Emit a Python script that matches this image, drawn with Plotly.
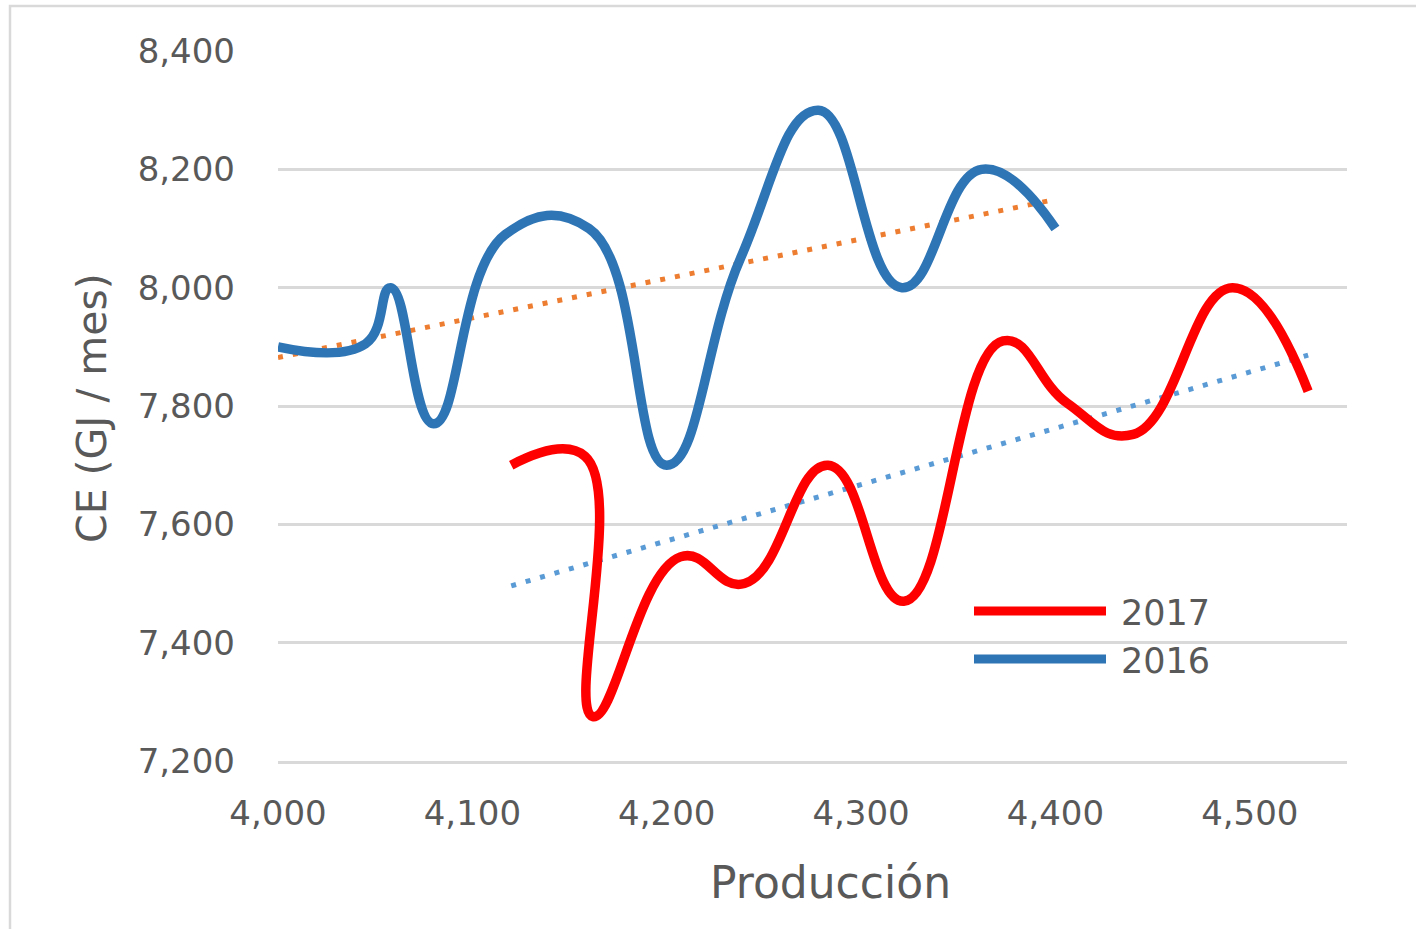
import plotly.graph_objects as go

# Producción (x) vs. consumo de energía CE (y), por año
prod_2016 = [4000, 4045, 4058, 4080, 4117, 4160, 4200, 4238, 4278, 4321, 4362, 4400]
ce_2016 = [7900, 7905, 8000, 7770, 8090, 8100, 7700, 8050, 8300, 8000, 8200, 8100]

prod_2017 = [4120, 4158, 4162, 4207, 4240, 4283, 4322, 4373, 4406, 4440, 4491, 4530]
ce_2017 = [7700, 7715, 7275, 7545, 7500, 7700, 7470, 7910, 7805, 7752, 8000, 7825]

# Líneas de tendencia lineal (extremos)
trend_2016_x = [4000, 4400]
trend_2016_y = [7882, 8149]
trend_2017_x = [4120, 4530]
trend_2017_y = [7496, 7886]

series_names = ["2017", "2016"]
x_ticks = [4000, 4100, 4200, 4300, 4400, 4500]
y_ticks = [7200, 7400, 7600, 7800, 8000, 8200, 8400]

RED = "#FF0000"
BLUE = "#2E75B6"
ORANGE = "#ED7D31"
LIGHT_BLUE = "#5B9BD5"
GRID = "#D9D9D9"
TEXT = "#595959"
FONT = "DejaVu Sans"

fig = go.Figure()

fig.add_trace(go.Scatter(
    x=trend_2016_x, y=trend_2016_y, mode="lines", showlegend=False,
    line=dict(color=ORANGE, width=5, dash="5px,10px"), hoverinfo="skip"))
fig.add_trace(go.Scatter(
    x=trend_2017_x, y=trend_2017_y, mode="lines", showlegend=False,
    line=dict(color=LIGHT_BLUE, width=5, dash="5px,10px"), hoverinfo="skip"))

fig.add_trace(go.Scatter(
    x=prod_2016, y=ce_2016, mode="lines", name=series_names[1], showlegend=False,
    line=dict(color=BLUE, width=9.5, shape="spline", smoothing=1.3)))
fig.add_trace(go.Scatter(
    x=prod_2017, y=ce_2017, mode="lines", name=series_names[0], showlegend=False,
    line=dict(color=RED, width=9.5, shape="spline", smoothing=1.3)))

# Plot area geometry in pixels (for paper-coordinate helpers)
W, H = 1416, 929
L, R, T, B = 278, 69, 51, 168
pw, ph = W - L - R, H - T - B


def px(xp):
    return (xp - L) / pw


def py(yp):
    return (H - B - yp) / ph


shapes = [
    # outer chart border
    dict(type="rect", xref="paper", yref="paper",
         x0=px(10), x1=px(1425), y0=py(940), y1=py(6),
         line=dict(color=GRID, width=2.5), layer="below"),
]
annotations = []

# legend drawn as lines + labels
legend_items = [(series_names[0], RED, 611), (series_names[1], BLUE, 659)]
for name, color, ypix in legend_items:
    shapes.append(dict(type="line", xref="paper", yref="paper",
                       x0=px(974), x1=px(1106), y0=py(ypix), y1=py(ypix),
                       line=dict(color=color, width=9)))
    annotations.append(dict(xref="paper", yref="paper", x=px(1119), y=py(ypix + 2),
                            text=name, showarrow=False, xanchor="left", yanchor="middle",
                            font=dict(family=FONT, size=35, color=TEXT)))

annotations.append(dict(xref="paper", yref="paper", x=px(830), y=py(882),
                        text="Producción", showarrow=False, xanchor="center",
                        yanchor="middle", font=dict(family=FONT, size=44, color=TEXT)))
annotations.append(dict(xref="paper", yref="paper", x=px(92), y=py(408),
                        text="CE (GJ / mes)", showarrow=False, textangle=-90,
                        xanchor="center", yanchor="middle",
                        font=dict(family=FONT, size=41, color=TEXT)))

fig.update_layout(
    width=W, height=H,
    margin=dict(l=L, r=R, t=T, b=B, pad=0),
    paper_bgcolor="white", plot_bgcolor="white",
    shapes=shapes, annotations=annotations,
    showlegend=False,
    font=dict(family=FONT, color=TEXT),
)

fig.update_xaxes(
    range=[4000, 4550], tickvals=x_ticks, tickformat=",d",
    showgrid=False, zeroline=False,
    showline=True, linecolor=GRID, linewidth=2.5,
    ticks="", ticklabelstandoff=20,
    tickfont=dict(family=FONT, size=34, color=TEXT),
)
fig.update_yaxes(
    range=[7200, 8400], tickvals=y_ticks, tickformat=",d",
    showgrid=True, gridcolor=GRID, gridwidth=2.5,
    zeroline=False, showline=False,
    ticks="", ticklabelstandoff=42,
    tickfont=dict(family=FONT, size=34, color=TEXT),
)

fig.write_html("out.html")
